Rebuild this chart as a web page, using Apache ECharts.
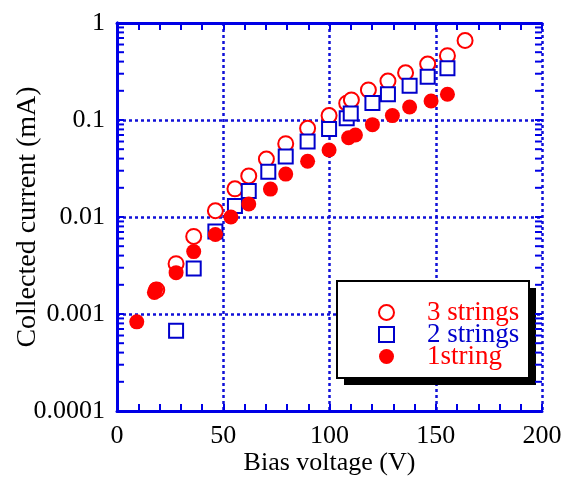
<!DOCTYPE html>
<html>
<head>
<meta charset="utf-8">
<script src="https://cdn.jsdelivr.net/npm/echarts@6/dist/echarts.min.js"></script>
<style>
  html, body { margin: 0; padding: 0; background: #fff; }
  #chart { width: 570px; height: 481px; }
</style>
</head>
<body>
<div id="chart"></div>
<script>
const seriesNames = ['3 strings', '2 strings', '1string'];

// 3 strings (open circles)
const volt3 = [18.7, 27.8, 36.1, 46.3, 55.5, 62.0, 70.3, 79.4, 89.7, 99.8, 108.1, 110.3, 118.3, 127.5, 135.8, 146.2, 155.5, 163.8];
const cur3 = [0.00177, 0.0033, 0.0063, 0.0116, 0.0195, 0.0265, 0.0396, 0.057, 0.082, 0.111, 0.149, 0.161, 0.204, 0.252, 0.307, 0.378, 0.46, 0.66];

// 2 strings (open squares)
const volt2 = [27.8, 36.1, 46.3, 55.5, 62.0, 71.2, 79.4, 89.7, 99.8, 108.1, 110.0, 120.2, 127.5, 137.7, 146.2, 155.5];
const cur2 = [0.00067, 0.00295, 0.0071, 0.013, 0.0185, 0.0293, 0.042, 0.06, 0.081, 0.104, 0.117, 0.15, 0.184, 0.226, 0.28, 0.341];

// 1 string (filled circles)
const volt1 = [9.3, 17.6, 18.2, 27.8, 36.1, 46.3, 53.6, 62.0, 72.2, 79.4, 89.7, 99.8, 109.0, 112.2, 120.2, 129.6, 137.7, 147.8, 155.5];
const cur1 = [0.00083, 0.00167, 0.0018, 0.00267, 0.0044, 0.0066, 0.01, 0.0136, 0.0194, 0.0277, 0.0375, 0.049, 0.0657, 0.07, 0.0895, 0.111, 0.136, 0.157, 0.184];

const yTickLabels = ['0.0001', '0.001', '0.01', '0.1', '1'];
const yDecades = [0.0001, 0.001, 0.01, 0.1, 1];
const yMinorMult = [2, 3, 4, 5, 6, 7, 8, 9];

const zip = (xs, ys) => xs.map((x, i) => [x, ys[i]]);

// log ticks: every decade and 2..9 inside it
const yTickValues = [];
yDecades.forEach((d, k) => {
  yTickValues.push(d);
  if (k < yDecades.length - 1) yMinorMult.forEach((m) => yTickValues.push(+(d * m).toPrecision(3)));
});

const blue = '#0000e6';
const gridBlue = '#1010d8';
const red = '#ff0000';
const sqBlue = '#0000cc';
const font = '"Liberation Serif", "Times New Roman", serif';
const xMin = 0, xMax = 200;

const xBase = {
  type: 'value',
  min: xMin,
  max: xMax,
  interval: 50,
  axisLine: { show: true, onZero: false, lineStyle: { color: blue, width: 3 } },
  axisTick: { show: true, inside: true, length: 7, lineStyle: { color: blue, width: 2 } },
  minorTick: { show: true, splitNumber: 5, length: 7, lineStyle: { color: blue, width: 2 } },
};

const chart = echarts.init(document.getElementById('chart'), null, { renderer: 'canvas' });

chart.setOption({
  animation: false,
  backgroundColor: '#fff',
  grid: { left: 117, right: 28, top: 23, bottom: 70, containLabel: false, outerBoundsMode: 'none' },
  xAxis: [
    Object.assign({}, xBase, {
      position: 'bottom',
      name: 'Bias voltage (V)',
      nameLocation: 'middle',
      nameGap: 39,
      nameMoveOverlap: false,
      nameTextStyle: { fontFamily: font, fontSize: 26, color: '#000' },
      axisLabel: { fontFamily: font, fontSize: 26, color: '#000', margin: 12 },
      splitLine: { show: true, lineStyle: { color: gridBlue, width: 2.5, type: [3, 3] } },
    }),
    Object.assign({}, xBase, {
      position: 'top',
      axisLabel: { show: false },
      splitLine: { show: false },
    }),
  ],
  yAxis: [
    {
      type: 'log',
      logBase: 10,
      min: 0.0001,
      max: 1,
      position: 'left',
      name: 'Collected current (mA)',
      nameLocation: 'middle',
      nameGap: 75,
      nameMoveOverlap: false,
      nameTextStyle: { fontFamily: font, fontSize: 28, color: '#000' },
      axisLine: { show: true, lineStyle: { color: blue, width: 3 } },
      axisTick: { show: false },
      axisLabel: {
        fontFamily: font,
        fontSize: 26,
        color: '#000',
        margin: 12,
        formatter: (v) => {
          const i = yDecades.findIndex((d) => Math.abs(Math.log10(d) - Math.log10(v)) < 1e-6);
          return i >= 0 ? yTickLabels[i] : '';
        },
      },
      splitLine: { show: true, lineStyle: { color: gridBlue, width: 2.5, type: [3, 3] } },
    },
    {
      type: 'log',
      logBase: 10,
      min: 0.0001,
      max: 1,
      position: 'right',
      axisLine: { show: true, lineStyle: { color: blue, width: 3 } },
      axisTick: { show: false },
      axisLabel: { show: false },
      splitLine: { show: false },
    },
  ],
  graphic: [
    {
      type: 'rect',
      z: 3,
      silent: true,
      shape: { x: 344, y: 288, width: 192, height: 97 },
      style: { fill: '#000' },
    },
    {
      type: 'rect',
      z: 3,
      silent: true,
      shape: { x: 337, y: 281, width: 192, height: 97 },
      style: { fill: '#fff', stroke: '#000', lineWidth: 2 },
    },
  ],
  legend: {
    orient: 'vertical',
    left: 337,
    top: 281,
    z: 5,
    padding: [18, 7, 13, 41],
    itemGap: -5,
    itemWidth: 15,
    itemHeight: 15,
    textStyle: { fontFamily: font, fontSize: 27, padding: [0, 0, 0, 28] },
    data: [
      { name: seriesNames[0], textStyle: { color: red } },
      { name: seriesNames[1], textStyle: { color: sqBlue } },
      { name: seriesNames[2], textStyle: { color: red } },
    ],
  },
  series: [
    {
      // log-axis ticks (decades + 2..9) on the left and right frame
      type: 'custom',
      silent: true,
      z: 3,
      data: yTickValues.map((v) => [xMin, v]),
      encode: { x: 0, y: 1 },
      renderItem: (params, api) => {
        const v = api.value(1);
        const l = api.coord([xMin, v]);
        const r = api.coord([xMax, v]);
        const st = { stroke: blue, lineWidth: 2 };
        return {
          type: 'group',
          children: [
            { type: 'line', shape: { x1: l[0], y1: l[1], x2: l[0] + 7, y2: l[1] }, style: st },
            { type: 'line', shape: { x1: r[0] - 7, y1: r[1], x2: r[0], y2: r[1] }, style: st },
          ],
        };
      },
    },
    {
      name: seriesNames[0],
      type: 'scatter',
      symbol: 'emptyCircle',
      symbolSize: 15,
      itemStyle: { color: red, borderColor: red, borderWidth: 2, opacity: 1 },
      data: zip(volt3, cur3),
    },
    {
      name: seriesNames[1],
      type: 'scatter',
      symbol: 'emptyRect',
      symbolSize: 14,
      itemStyle: { color: sqBlue, borderColor: sqBlue, borderWidth: 2, opacity: 1 },
      data: zip(volt2, cur2),
    },
    {
      name: seriesNames[2],
      type: 'scatter',
      symbol: 'circle',
      symbolSize: 15,
      itemStyle: { color: red, opacity: 1 },
      data: zip(volt1, cur1),
    },
  ],
});
</script>
</body>
</html>
